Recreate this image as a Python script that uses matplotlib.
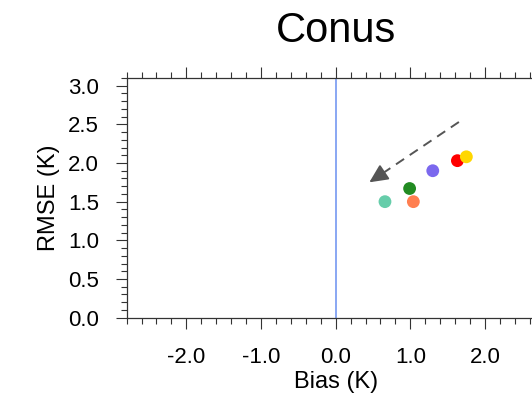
import matplotlib.pyplot as plt
from matplotlib.ticker import MultipleLocator

plt.rcParams['font.family'] = ['Liberation Sans', 'DejaVu Sans']

# experiment points: bias vs rmse
bias = [0.66, 1.04, 0.99, 1.30, 1.63, 1.75]
rmse = [1.50, 1.50, 1.67, 1.90, 2.03, 2.08]
colors = ['#66cdaa', '#ff7f50', '#228b22', '#7b68ee', '#ff0000', '#ffd700']

# arrow from (start) to (end)
arrow_start = (1.65, 2.53)
arrow_end = (0.45, 1.75)

xticks = [-2.0, -1.0, 0.0, 1.0, 2.0]
yticks = [0.0, 0.5, 1.0, 1.5, 2.0, 2.5, 3.0]

fig = plt.figure(figsize=(5.32, 4.03), dpi=100)
ax = fig.add_axes([0.238, 0.2117, 0.786, 0.595])

ax.axvline(0.0, color='#6a8ff0', lw=1.1, zorder=1)

# dashed shaft, then a solid head on the last bit
f = 0.13
mid = (arrow_end[0] + f * (arrow_start[0] - arrow_end[0]),
       arrow_end[1] + f * (arrow_start[1] - arrow_end[1]))
ax.plot([arrow_start[0], mid[0]], [arrow_start[1], mid[1]],
        color='#555555', lw=1.4, linestyle=(0, (5, 3.5)))
ax.annotate('', xy=arrow_end, xytext=mid,
            arrowprops=dict(arrowstyle='-|>,head_length=0.8,head_width=0.38',
                            color='#555555', lw=1.4,
                            mutation_scale=14, shrinkA=0, shrinkB=0))

ax.scatter(bias, rmse, c=colors, s=85, zorder=3, edgecolors='none')

ax.set_xlim(-2.8, 2.8)
ax.set_ylim(0.0, 3.1)
ax.set_xticks(xticks)
ax.set_yticks(yticks)
ax.set_xticklabels(['%.1f' % v for v in xticks])
ax.set_yticklabels(['%.1f' % v for v in yticks])
ax.xaxis.set_minor_locator(MultipleLocator(0.2))
ax.yaxis.set_minor_locator(MultipleLocator(0.1))

ax.tick_params(which='both', direction='out', top=True, right=True,
               color='#333333', width=0.8)
ax.tick_params(which='major', length=8, labelsize=16)
ax.tick_params(axis='y', which='major', pad=12)
ax.tick_params(axis='x', which='major', pad=13)
ax.tick_params(which='minor', length=4)
for s in ax.spines.values():
    s.set_color('#333333')
    s.set_linewidth(0.9)

ax.set_xlabel('Bias (K)', fontsize=17, labelpad=2)
ax.set_ylabel('RMSE (K)', fontsize=17, labelpad=6)
ax.set_title('Conus', fontsize=30, pad=26)

fig.savefig('out.png', dpi=100)
